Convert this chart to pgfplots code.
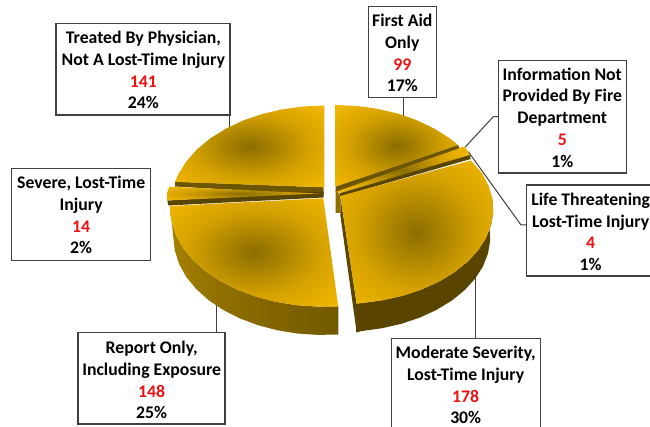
\documentclass[border=0pt]{standalone}
\usepackage{fontspec}
\setmainfont{Carlito}
\usepackage{pgfplots}
\pgfplotsset{compat=1.18}

\definecolor{gA}{HTML}{8C6D00}
\definecolor{gB}{HTML}{AC8500}
\definecolor{gC}{HTML}{D6A200}
\definecolor{gD}{HTML}{EFB500}
\definecolor{gE}{HTML}{FDC200}
\definecolor{sDark}{HTML}{5A4500}
\definecolor{sMid}{HTML}{6E5500}
\definecolor{sLight}{HTML}{8F6F00}
\definecolor{sGold}{HTML}{CC9C00}
\definecolor{lineGrey}{HTML}{404040}
\definecolor{numRed}{HTML}{EE1111}

\pgfdeclareradialshading{pietop}{\pgfpoint{0bp}{0bp}}{%
  color(0bp)=(gA); color(9bp)=(gB); color(20bp)=(gC); color(33bp)=(gD); color(46bp)=(gE); color(100bp)=(gE)}
\pgfdeclarehorizontalshading{sideleft}{100bp}{%
  color(0bp)=(sGold); color(40bp)=(sLight); color(80bp)=(sMid); color(100bp)=(sMid)}
\pgfdeclarehorizontalshading{sideright}{100bp}{%
  color(0bp)=(sMid); color(15bp)=(sDark); color(80bp)=(sDark); color(100bp)=(sLight)}

\tikzset{
  box/.style={draw=lineGrey, line width=0.85pt},
  lead/.style={draw=lineGrey, line width=0.75pt},
  lbl/.style={align=center, inner sep=0pt, font=\fontsize{13.3}{16.3}\selectfont\bfseries},
}
\newcommand{\num}[1]{\textcolor{numRed}{#1}}

\begin{document}
\begin{tikzpicture}
\path[use as bounding box, clip] (0,0) rectangle (487.5pt,320.25pt);
\begin{axis}[
    at={(0,0)}, anchor=south west,
    width=487.5pt, height=320.25pt, scale only axis,
    xmin=0, xmax=650, ymin=0, ymax=427,
    y dir=reverse,
    hide axis,
    clip=false,
]
% leader lines go under the pie
\draw[lead] (axis cs:229.3,115) -- (axis cs:229.3,127);
\draw[lead] (axis cs:403.3,97.7) -- (axis cs:403.3,116);
\draw[lead] (axis cs:498.3,116.7) -- (axis cs:493.3,116.7) -- (axis cs:465,147.3);
\draw[lead] (axis cs:526.7,225) -- (axis cs:521,225) -- (axis cs:468.3,151.7);
\draw[lead] (axis cs:475.7,270) -- (axis cs:475.7,338.3);
\draw[lead] (axis cs:216.7,300) -- (axis cs:216.7,332.7);

% side faces
\addplot[draw=none, fill=sMid] coordinates {(175,181.7) (175,186.5) (323.5,195) (323.5,187.3)} --cycle;
\addplot[draw=none, fill=sDark] coordinates {(167.3,200.5) (168.3,205.5) (323.5,197.5) (323.5,191.5)} --cycle;
\addplot[draw=none, fill=sLight] coordinates {(335.7,190) (340,195) (340,213) (335.7,213)} --cycle;
\addplot[draw=none, fill=sDark] coordinates {(340.3,196) (356.7,304) (356.7,332.7) (340.3,215)} --cycle;

% Report Only, outer side
\addplot[draw=none, shade, shading=sideleft] coordinates {
  (170,206) (170,209.7) (171.5,221.7) (176,235.2) (183.2,248.2) (193.3,260.3) (205.9,271.5)
  (220.7,281.3) (237.6,289.8) (256.2,296.7) (275.9,301.9) (296.6,305.2) (317.9,306.6) (338.3,306.2)
  (338.3,334.5) (318.1,334.9) (297.2,333.5) (277,330.2) (257.6,325.1) (239.4,318.2) (222.9,309.8)
  (208.4,300) (196.1,288.9) (186.2,276.9) (179.1,264) (174.8,250.6) (173.3,237)} --cycle;

% Moderate Severity, outer side
\addplot[draw=none, shade, shading=sideright] coordinates {
  (492.5,199) (493.2,212.3) (491,225.5) (485.8,238.4) (477.9,250.6) (467.1,262.1) (454,272.6)
  (438.7,281.8) (421.4,289.6) (402.6,295.8) (382.5,300.3) (361.6,303.1) (356.7,303.4)
  (356.7,332.5) (361.2,331.1) (381.7,328.3) (401.4,323.8) (419.8,317.6) (436.7,309.8) (451.8,300.6)
  (464.7,290.1) (475.2,278.6) (483,266.4) (488,253.5) (490.2,240.3) (489.5,227)} --cycle;

% top faces
% Treated By Physician, 141
\addplot[draw=none, shade, shading=pietop] coordinates {
  (324.3,187.3) (324.3,105.5) (303,106.5) (281.9,109.4) (261.8,114.1) (242.9,120.6) (225.6,128.8)
  (210.2,138.4) (197,149.4) (186.3,161.4) (178.3,174.3) (175,181.9)} --cycle;
% First Aid Only, 99
\addplot[draw=none, shade, shading=pietop] coordinates {
  (335.7,186.7) (335.7,105) (357,106) (377.9,108.9) (398,113.6) (416.8,120.2) (434.1,128.4)
  (449.4,138.1) (458.1,145)} --cycle;
% Information Not Provided, 5
\addplot[draw=none, shade, shading=pietop] coordinates {
  (335.7,191) (459,147.5) (465,147) (467.5,151.3) (339,193)} --cycle;
% Life Threatening, 4
\addplot[draw=none, shade, shading=pietop] coordinates {
  (339,193) (467.5,151) (470,155.5) (340,194)} --cycle;
% strips on either side of the two small slices
\addplot[draw=none, fill=sMid] coordinates {(335.7,186.7) (458.3,145) (459,148.3) (335.7,191.7)} --cycle;
\addplot[draw=none, fill=sDark] coordinates {(340,193.3) (470,155) (470.7,159) (340,196.5)} --cycle;
% Severe, Lost-Time Injury, 14
\addplot[draw=none, shade, shading=pietop] coordinates {
  (169.3,186.7) (318,193.5) (167.3,200.5) (166.8,193.5)} --cycle;
% Report Only, 148
\addplot[draw=none, shade, shading=pietop] coordinates {
  (323.3,198.3) (170,206) (171.5,221.7) (176,235.2) (183.2,248.2) (193.3,260.3) (205.9,271.5)
  (220.7,281.3) (237.6,289.8) (256.2,296.7) (275.9,301.9) (296.6,305.2) (317.9,306.6) (338.3,306.6)} --cycle;
% Moderate Severity, 178
\addplot[draw=none, shade, shading=pietop] coordinates {
  (340.3,196) (471,160.5) (482.1,173.4) (488.7,186) (492.5,199) (493.2,212.3) (491,225.5)
  (485.8,238.4) (477.9,250.6) (467.1,262.1) (454,272.6) (438.7,281.8) (421.4,289.6)
  (402.6,295.8) (382.5,300.3) (361.6,303.1) (356.7,303.8)} --cycle;

% label boxes
\draw[box] (axis cs:56,23.7) rectangle (axis cs:230,115);
\draw[box] (axis cs:11.7,168.7) rectangle (axis cs:150.3,260.3);
\draw[box] (axis cs:368.3,6.7) rectangle (axis cs:436.3,97.7);
\draw[box] (axis cs:498.3,60.7) rectangle (axis cs:626.3,173);
\draw[box] (axis cs:660,185) -- (axis cs:526.7,185) -- (axis cs:526.7,276) -- (axis cs:660,276);
\draw[box] (axis cs:78,332.7) rectangle (axis cs:225,424);
\draw[box] (axis cs:391.7,440) -- (axis cs:391.7,338.3) -- (axis cs:540.7,338.3) -- (axis cs:540.7,440);

\node[lbl] at (axis cs:143.3,70.2) {Treated By Physician,\\Not A Lost-Time Injury\\\num{141}\\24\%};
\node[lbl] at (axis cs:81.2,215.2) {Severe, Lost-Time\\Injury\\\num{14}\\2\%};
\node[lbl] at (axis cs:402.3,53) {First Aid\\Only\\\num{99}\\17\%};
\node[lbl] at (axis cs:562.3,117.5) {Information Not\\Provided By Fire\\Department\\\num{5}\\1\%};
\node[lbl] at (axis cs:590.7,231.8) {Life Threatening\\Lost-Time Injury\\\num{4}\\1\%};
\node[lbl] at (axis cs:151.7,380) {Report Only,\\Including Exposure\\\num{148}\\25\%};
\node[lbl] at (axis cs:465.7,385) {Moderate Severity,\\Lost-Time Injury\\\num{178}\\30\%};
\end{axis}
\end{tikzpicture}
\end{document}
